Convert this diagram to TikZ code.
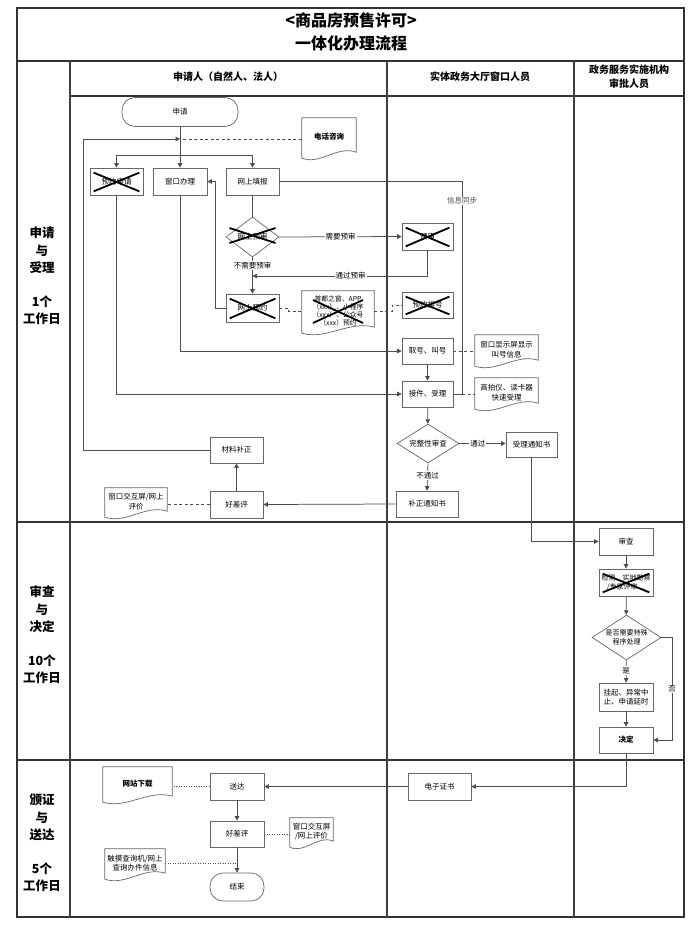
\documentclass[tikz,border=0pt]{standalone}
\usepackage{fontspec}
\setmainfont{Noto Sans CJK SC}
\usetikzlibrary{shapes.geometric,arrows.meta,calc}
\begin{document}
\begin{tikzpicture}[x=1pt,y=-1pt,
  bx/.style={rectangle, draw=black!60, line width=.7pt, fill=white, inner sep=1pt, font=\fontsize{7.5}{9.5}\selectfont, align=center},
  term/.style={bx, rounded corners=13pt},
  dm/.style={diamond, draw=black!60, line width=.7pt, fill=white, inner sep=0pt, font=\fontsize{7.5}{9.5}\selectfont, align=center},
  docn/.style={rectangle, inner sep=1pt, font=\fontsize{7.5}{9.5}\selectfont, align=center},
  docl/.style={draw=black!60, line width=.7pt},
  ln/.style={draw=black!70, line width=.75pt},
  arr/.style={ln, -{Triangle[length=4.5pt,width=4.5pt]}},
  dsh/.style={ln, dash pattern=on 3pt off 2.5pt},
  dtt/.style={ln, dash pattern=on 1pt off 1.5pt},
  lbl/.style={fill=white, inner sep=1pt, font=\fontsize{7.5}{9}\selectfont},
  xx/.style={line width=1.8pt, black},
  frame/.style={line width=1.1pt, black!80},
  lane/.style={line width=1.3pt, black!75},
  ph/.style={font=\fontsize{12.5}{17.5}\selectfont\bfseries, align=center},
  hd/.style={font=\fontsize{10}{14}\selectfont\bfseries, align=center}
]
\useasboundingbox (0,0) rectangle (700,928);

% ---------- frame ----------
\draw[frame] (17,8) rectangle (684,917);
\draw[frame] (17,61) -- (684,61);
\draw[frame] (70,96) -- (684,96);
\draw[frame] (17,522) -- (684,522);
\draw[frame] (17,760) -- (684,760);
\draw[lane] (70,61) -- (70,917);
\draw[lane] (387,61) -- (387,917);
\draw[lane] (574,61) -- (574,917);

\node[font=\fontsize{16}{20}\selectfont\bfseries] (t1) at (351,20) {<商品房预售许可>};
\node[font=\fontsize{16}{20}\selectfont\bfseries] (t2) at (351,43) {一体化办理流程};
\node[hd] (h1) at (228,77) {申请人（自然人、法人）};
\node[hd] (h2) at (480,77) {实体政务大厅窗口人员};
\node[hd] (h3) at (629,77) {政务服务实施机构\\审批人员};

\node[ph] (ph1) at (42,276) {申请\\与\\受理\\[16pt]1个\\工作日};
\node[ph] (ph2) at (42,635) {审查\\与\\决定\\[16pt]10个\\工作日};
\node[ph] (ph3) at (42,843) {颁证\\与\\送达\\[16pt]5个\\工作日};

% ---------- nodes: phase 1 ----------
\node[term, minimum width=116pt, minimum height=29pt] (start) at (180,112) {申请};
\node[docn, minimum width=54pt, minimum height=38pt, font=\fontsize{7.5}{9.5}\selectfont\bfseries] (tel) at (329,137) {电话咨询};
\node[bx, minimum width=53pt, minimum height=27pt] (b1) at (116.5,181.5) {预约申请};
\node[bx, minimum width=54pt, minimum height=27pt] (b2) at (180,181.5) {窗口办理};
\node[bx, minimum width=53pt, minimum height=27pt] (b3) at (252.5,181.5) {网上填报};
\node[dm, minimum width=53pt, minimum height=40pt] (d1) at (252.5,237) {网上预审};
\node[bx, minimum width=51pt, minimum height=27pt] (p1) at (427.5,236.5) {预审};
\node[bx, minimum width=53pt, minimum height=28pt] (w1) at (252.5,308) {网上预约};
\node[docn, minimum width=72pt, minimum height=40pt, font=\fontsize{6.8}{8.3}\selectfont] (doc2) at (338,311) {首都之窗、APP\\（xxx）、小程序\\（xxx）、公众号\\（xxx）预约};
\node[bx, minimum width=51pt, minimum height=26pt] (p2) at (427.5,305) {预约排号};
\node[bx, minimum width=51pt, minimum height=26pt] (q1) at (427.5,351) {取号、叫号};
\node[docn, minimum width=63pt, minimum height=29pt] (docq) at (506.5,349.5) {窗口显示屏显示\\叫号信息};
\node[bx, minimum width=51pt, minimum height=26pt] (q2) at (427.5,394) {接件、受理};
\node[docn, minimum width=63pt, minimum height=29pt] (doca) at (506.5,392.5) {高拍仪、读卡器\\快速受理};
\node[dm, aspect=1.6, minimum width=62pt, minimum height=39pt] (d2) at (428,443.5) {完整性审查};
\node[bx, minimum width=51pt, minimum height=25pt] (n1) at (531.5,444.5) {受理通知书};
\node[bx, minimum width=62pt, minimum height=26pt] (n2) at (427,504) {补正通知书};
\node[bx, minimum width=53pt, minimum height=27pt] (g1) at (236.5,504.5) {好差评};
\node[bx, minimum width=53pt, minimum height=26pt] (m1) at (236.5,450) {材料补正};
\node[docn, minimum width=62pt, minimum height=27pt] (docg) at (136,501.5) {窗口交互屏/网上\\评价};

% ---------- nodes: phase 2 ----------
\node[bx, minimum width=54pt, minimum height=27pt] (r1) at (626,541.5) {审查};
\node[bx, minimum width=54pt, minimum height=27pt, font=\fontsize{7}{9}\selectfont] (r2) at (626,582.5) {检测、实地勘察\\/专家评审…};
\node[dm, aspect=1.5, minimum width=69pt, minimum height=45pt, font=\fontsize{7}{9}\selectfont] (d3) at (626.5,637.5) {是否需要特殊\\程序处理};
\node[bx, minimum width=54pt, minimum height=28pt] (r3) at (626,697) {挂起、异常中\\止、申请延时};
\node[bx, minimum width=54pt, minimum height=26pt, font=\fontsize{7.5}{9.5}\selectfont\bfseries] (r4) at (626,740) {决定};

% ---------- nodes: phase 3 ----------
\node[bx, minimum width=63pt, minimum height=27pt] (e1) at (439.5,786.5) {电子证书};
\node[bx, minimum width=54pt, minimum height=27pt] (s1) at (237,786.5) {送达};
\node[docn, minimum width=69pt, minimum height=33pt, font=\fontsize{7.5}{9.5}\selectfont\bfseries] (docw) at (137.5,783.5) {网站下载};
\node[bx, minimum width=54pt, minimum height=26pt] (s2) at (237,834) {好差评};
\node[docn, minimum width=43pt, minimum height=27pt] (docs) at (311.5,831.5) {窗口交互屏\\/网上评价};
\node[docn, minimum width=60pt, minimum height=28pt] (doct) at (135,863) {触摸查询机/网上\\查询办件信息};
\node[term, minimum width=54pt, minimum height=28pt] (s3) at (237,887) {结束};

% ---------- document outlines ----------
\foreach \n in {tel,doc2,docq,doca,docg,docw,docs,doct}{
  \draw[docl] ([yshift=-2pt]\n.south west) -- (\n.north west) -- (\n.north east) -- ([yshift=4pt]\n.south east)
    .. controls ($(\n.south west)!0.65!(\n.south east)+(0,-11)$) and ($(\n.south west)!0.35!(\n.south east)+(0,9)$) .. ([yshift=-2pt]\n.south west);
}

% ---------- coordinates ----------
\coordinate (j) at (180,155);
\coordinate (jt) at (180,139);
\coordinate (lp) at (83,139);
\coordinate (kk) at (252.5,276);
\coordinate (ww) at (215,308);
\coordinate (si) at (462,181.5);
\coordinate (no) at (672,637.5);

% ---------- connectors phase 1 ----------
\draw[arr] (start) -- (b2);
\draw[arr] (j) -| (b1.north);
\draw[arr] (j) -| (b3.north);
\draw[arr] (m1.west) -| (lp) -- (jt);
\draw[dsh] (tel.west |- jt) -- (jt);
\draw[ln] (b3) -- (d1);
\draw[arr] (d1.east) -- node[lbl] (lab1) {需要预审} (p1.west);
\draw[arr] (p1.south) |- node[lbl, pos=0.72] (lab2) {通过预审} (kk);
\draw[arr] (d1.south) -- node[lbl, pos=0.22] (lab3) {不需要预审} (w1.north);
\draw[arr] (w1.west) -- (ww) |- (b2.east);
\draw[dsh] (w1.east) -- ++(9,0) |- (doc2.west);
\draw[dsh] (doc2.east) -- ++(18,0) |- (p2.west);
\draw[arr] (b2.south) |- (q1.west);
\draw[arr] (b1.south) |- (q2.west);
\draw[ln] (b3.east) -- (si) |- (q2.east);
\node[lbl, text=black!70] (lab4) at (462,201) {信息同步};
\draw[dsh] (q1.east) -- (docq.west |- q1.east);
\draw[dsh] (si |- q2.east) -- (doca.west |- q2.east);
\draw[arr] (q1) -- (q2);
\draw[arr] (q2) -- (d2);
\draw[arr] (d2.east) -- node[lbl, pos=0.4] (lab5) {通过} (d2.east -| n1.west);
\draw[arr] (d2.south) -- node[lbl, pos=0.45] (lab6) {不通过} (n2.north);
\draw[arr] (n2.west) -- (g1.east);
\draw[arr] (g1) -- (m1);
\draw[dsh] (g1.west) -- (docg.east |- g1.west);

% ---------- connectors phase 2 ----------
\draw[arr] (n1.south) |- (r1.west);
\draw[arr] (r1) -- (r2);
\draw[arr] (r2) -- (d3);
\draw[arr] (d3) -- node[lbl, pos=0.45] (lab7) {是} (r3);
\draw[arr] (r3) -- (r4);
\draw[arr] (d3.east) -- (no) |- node[lbl, pos=0.25] (lab8) {否} (r4.east);

% ---------- connectors phase 3 ----------
\draw[arr] (r4.south) |- (e1.east);
\draw[arr] (e1.west) -- (s1.east);
\draw[dtt] (s1.west) -- (docw.east |- s1.west);
\draw[arr] (s1) -- (s2);
\draw[arr] (s2) -- (s3);
\draw[dtt] (s2.east) -- (docs.west |- s2.east);
\draw[dtt] (doct.east) -- (doct.east -| s3.north);

% ---------- crossings ----------
\foreach \n in {b1,w1,p1,p2,r2}{
  \draw[xx] ([xshift=4pt,yshift=-5pt]\n.north west) -- ([xshift=-4pt,yshift=4pt]\n.south east);
  \draw[xx] ([xshift=4pt,yshift=4pt]\n.south west) -- ([xshift=-4pt,yshift=-5pt]\n.north east);
}
\draw[xx] ([xshift=-23pt,yshift=9pt]d1.center) -- ([xshift=23pt,yshift=-6pt]d1.center);
\draw[xx] ([xshift=-23pt,yshift=-6pt]d1.center) -- ([xshift=23pt,yshift=9pt]d1.center);
\draw[xx] ([xshift=-25pt,yshift=11pt]doc2.center) -- ([xshift=25pt,yshift=-12pt]doc2.center);
\draw[xx] ([xshift=-25pt,yshift=-12pt]doc2.center) -- ([xshift=25pt,yshift=11pt]doc2.center);
\end{tikzpicture}
\end{document}
